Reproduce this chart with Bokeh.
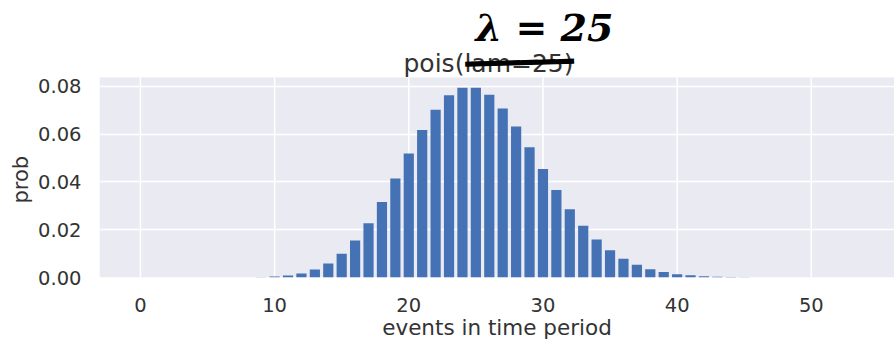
from bokeh.plotting import figure
from bokeh.models import ColumnDataSource, Label, Range1d, FixedTicker, NumeralTickFormatter, BoxAnnotation, Title
from bokeh.embed import file_html
from bokeh.resources import INLINE

# Data: events k and probability
events = list(range(0, 55))
prob = [0, 0, 0, 0, 0, 0, 0, 0, 0, 0.0001, 0.0004,
        0.0008, 0.0017, 0.0033, 0.0059, 0.0099, 0.0155, 0.0227, 0.0316, 0.0415, 0.0519,
        0.0618, 0.0702, 0.0763, 0.0795, 0.0795, 0.0765, 0.0708, 0.0632, 0.0545, 0.0454,
        0.0366, 0.0286, 0.0217, 0.0159, 0.0114, 0.0079, 0.0053, 0.0035, 0.0023, 0.0014,
        0.0009, 0.0005, 0.0003, 0.0002, 0.0001, 0, 0, 0, 0, 0,
        0, 0, 0, 0]
x_ticks = [0, 10, 20, 30, 40, 50]
y_ticks = [0.0, 0.02, 0.04, 0.06, 0.08]
title_text = "pois(lam=25)"
note_text = "λ = 25"
x_label = "events in time period"
y_label = "prob"

Y_TOP = 0.0838     # top of the shaded axes area
Y_CANVAS = 0.1160  # extra room above for the title and the note

src = ColumnDataSource(dict(x=events, top=prob))
grid_src = ColumnDataSource(dict(x=x_ticks, y0=[0] * len(x_ticks), y1=[Y_TOP] * len(x_ticks)))

p = figure(width=894, height=346, output_backend="svg", toolbar_location=None,
           x_range=Range1d(-3.05, 56.2), y_range=Range1d(0, Y_CANVAS),
           min_border_left=99, min_border_right=0, min_border_top=0, min_border_bottom=69,
           background_fill_color="white", border_fill_color="white")
p.outline_line_color = None

bg = BoxAnnotation(top=Y_TOP, fill_color="#EAEAF2", fill_alpha=1.0, line_color=None, level="underlay")
p.center = [bg] + list(p.center)

p.xgrid.visible = False
p.ygrid.ticker = FixedTicker(ticks=y_ticks)
p.ygrid.grid_line_color = "white"
p.ygrid.grid_line_width = 1.5

p.segment(x0="x", y0="y0", x1="x", y1="y1", source=grid_src, line_color="white", line_width=1.5)

p.vbar(x="x", top="top", width=0.76, bottom=0, source=src,
       fill_color="#4472B4", line_color=None)

for ax in (p.xaxis[0], p.yaxis[0]):
    ax.axis_line_color = None
    ax.major_tick_line_color = None
    ax.minor_tick_line_color = None
    ax.major_tick_out = 0
    ax.major_label_text_font = "DejaVu Sans"
    ax.major_label_text_font_size = "19.5px"
    ax.major_label_text_color = "#333333"
    ax.axis_label_text_font = "DejaVu Sans"
    ax.axis_label_text_font_size = "21.5px"
    ax.axis_label_text_font_style = "normal"
    ax.axis_label_text_color = "#333333"

p.xaxis.ticker = FixedTicker(ticks=x_ticks)
p.yaxis.ticker = FixedTicker(ticks=y_ticks)
p.yaxis.formatter = NumeralTickFormatter(format="0.00")
p.xaxis.major_label_standoff = 20
p.yaxis.major_label_standoff = 18
p.xaxis.axis_label = x_label
p.xaxis.axis_label_standoff = 0

# y axis label as a left-side title, shifted up to the centre of the shaded area
p.add_layout(Title(text=y_label, align="left", offset=74, standoff=6,
                   text_font="DejaVu Sans", text_font_size="21px", text_font_style="normal",
                   text_color="#333333"), "left")

# Title and handwritten annotation (screen units relative to the plot frame)
p.add_layout(Label(x=389, y=214, x_units="screen", y_units="screen", text=title_text,
                   text_font="DejaVu Sans", text_font_size="25px", text_color="#333333",
                   text_align="center", text_baseline="middle"))
p.add_layout(Label(x=420, y=215, x_units="screen", y_units="screen", text="━━━━━━",
                   text_font="DejaVu Sans Mono", text_font_size="30px", text_color="black",
                   text_align="center", text_baseline="middle", angle=0.03))
p.add_layout(Label(x=445, y=250, x_units="screen", y_units="screen", text=note_text,
                   text_font="DejaVu Serif", text_font_size="38px", text_font_style="bold italic",
                   text_color="black", text_align="center", text_baseline="middle"))

open("out.html", "w").write(file_html(p, INLINE))
